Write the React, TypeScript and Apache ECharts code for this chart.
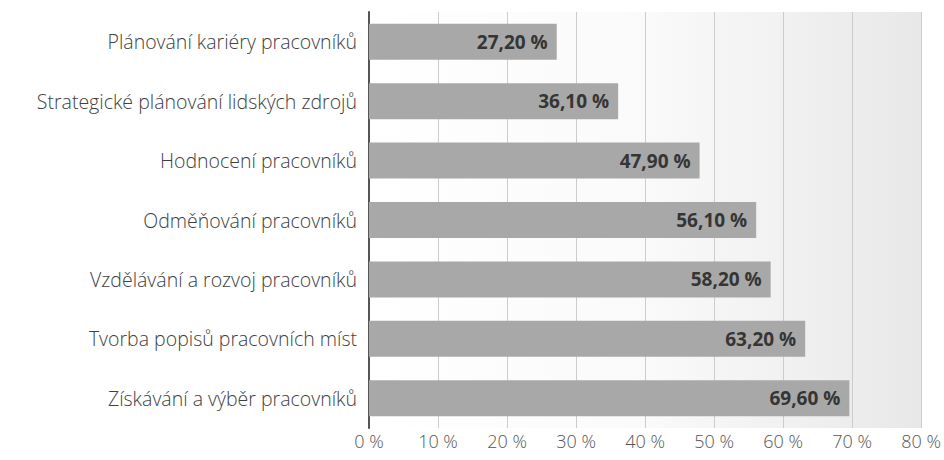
import React, { useEffect, useRef } from "react";
import * as echarts from "echarts";

const categories = [
  "Plánování kariéry pracovníků",
  "Strategické plánování lidských zdrojů",
  "Hodnocení pracovníků",
  "Odměňování pracovníků",
  "Vzdělávání a rozvoj pracovníků",
  "Tvorba popisů pracovních míst",
  "Získávání a výběr pracovníků",
];
const values = [27.2, 36.1, 47.9, 56.1, 58.2, 63.2, 69.6];
const xTicks = [0, 10, 20, 30, 40, 50, 60, 70, 80];

export default function App() {
  const ref = useRef<HTMLDivElement>(null);
  useEffect(() => {
    if (!ref.current) return;
    const chart = echarts.init(ref.current, undefined, { renderer: "svg" });
    chart.setOption({
      animation: false,
      backgroundColor: "#ffffff",
      grid: {
        left: 369,
        right: 20,
        top: 12,
        bottom: 32,
        show: true,
        borderWidth: 0,
        backgroundColor: new echarts.graphic.LinearGradient(0, 0, 1, 0, [
          { offset: 0, color: "#ffffff" },
          { offset: 0.5, color: "#fafafa" },
          { offset: 1, color: "#e8e8e8" },
        ]),
      },
      xAxis: {
        type: "value",
        min: xTicks[0],
        max: xTicks[xTicks.length - 1],
        interval: 10,
        axisLine: { show: false },
        axisTick: { show: false },
        splitLine: { show: true, lineStyle: { color: "#cccccc", width: 1 } },
        axisLabel: {
          formatter: (v: number) => `${v} %`,
          color: "#555555",
          fontSize: 18,
          fontFamily: "Open Sans",
          fontWeight: 300,
          margin: 4,
        },
      },
      yAxis: {
        type: "category",
        data: categories,
        inverse: true,
        axisLine: { show: true, lineStyle: { color: "#555555", width: 2 } },
        axisTick: { show: false },
        axisLabel: {
          color: "#404040",
          fontSize: 19.5,
          fontFamily: "Open Sans",
          fontWeight: 300,
          margin: 12,
        },
      },
      series: [
        {
          type: "bar",
          data: values,
          barWidth: 36,
          itemStyle: { color: "#a8a8a8" },
          label: {
            show: true,
            position: "insideRight",
            distance: 9,
            color: "#353535",
            fontSize: 19,
            fontWeight: "bold",
            fontFamily: "Open Sans",
            formatter: (p: any) => `${p.value.toFixed(2).replace(".", ",")} %`,
          },
        },
      ],
    });
    return () => chart.dispose();
  }, []);
  return (
    <div
      ref={ref}
      style={{ position: "fixed", left: 0, top: 0, width: 944, height: 460 }}
    />
  );
}
